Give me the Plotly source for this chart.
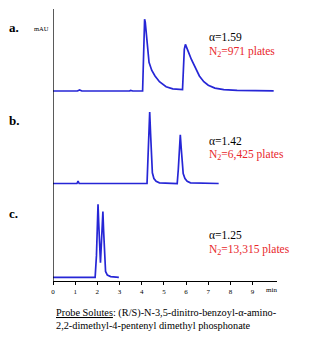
import plotly.graph_objects as go

# ---------------- data ----------------
# retention time (min) and relative detector signal (tallest peak of each run = 100)
t_a = [0, 1.1, 1.2, 1.3, 3.45, 3.5, 3.6, 3.75, 3.8, 4.04, 4.07, 4.1, 4.13, 4.16, 4.2, 4.26,
       4.33, 4.45, 4.6, 4.8, 5.1, 5.4, 5.75, 5.84, 5.88, 5.92, 5.97, 6.02, 6.1, 6.24, 6.4,
       6.6, 6.8, 7.0, 7.3, 7.7, 8.3, 9.95]
s_a = [0, 0, 1.5, 0, 0, 0.8, 0, 0.6, 0, 0, 40, 85, 100, 96, 80, 58,
       40, 29, 21, 13, 6, 3, 2, 2, 30, 58, 65, 62, 55, 44, 33,
       21, 13, 8, 4, 2, 0.8, 0.3]

t_b = [0, 1.08, 1.13, 1.18, 4.24, 4.28, 4.32, 4.36, 4.4, 4.44, 4.48, 4.55, 4.65, 4.8,
       5.6, 5.65, 5.7, 5.74, 5.78, 5.82, 5.87, 5.95, 6.05, 6.2, 7.47]
s_b = [0, 0, 3.5, 0, 0, 30, 80, 100, 70, 35, 15, 7, 3, 1,
       0, 20, 55, 68, 50, 28, 14, 7, 3, 1, 0]

t_c = [0, 0.8, 1.0, 1.2, 1.4, 1.9, 1.96, 2.0, 2.03, 2.06, 2.1, 2.14, 2.18, 2.22, 2.25,
       2.28, 2.32, 2.37, 2.45, 2.6, 2.97]
s_c = [0, 0, 1, 0.5, 0, 0, 30, 85, 100, 75, 30, 20, 45, 85, 90,
       65, 25, 8, 3, 1, 0]

run_labels = ["a.", "b.", "c."]
alphas = ["α=1.59", "α=1.42", "α=1.25"]
plates = ["N<sub>2</sub>=971 plates", "N<sub>2</sub>=6,425 plates", "N<sub>2</sub>=13,315 plates"]
tick_vals = [0, 1, 2, 3, 4, 5, 6, 7, 8, 9]
tick_text = ["0", "1", "2", "3", "4", "5", "6", "7", "8", "9"]
caption = ("<u>Probe Solutes</u>: (R/S)-N-3,5-dinitro-benzoyl-α-amino-<br>"
           "2,2-dimethyl-4-pentenyl dimethyl phosphonate")

# ---------------- layout helpers ----------------
W, H = 322, 343
ML, MR, MT, MB = 53, 45, 9, 62
PH = H - MT - MB
PW = W - ML - MR
YR = [-4, 105]

def py(pix):
    return (H - MB - pix) / PH

def px(pix):
    return (pix - ML) / PW

def domain(base_pix, top_pix):
    s = (base_pix - top_pix) / 100.0
    return [py(base_pix - YR[0] * s), py(top_pix - (YR[1] - 100) * s)]

BLUE = "#2626d6"
RED = "#e8262b"
SERIF = "Liberation Serif"

fig = go.Figure()
for i, (t, s) in enumerate([(t_a, s_a), (t_b, s_b), (t_c, s_c)]):
    fig.add_trace(go.Scatter(x=t, y=s, mode="lines", yaxis="y" if i == 0 else f"y{i+1}",
                             line=dict(color=BLUE, width=1.7), showlegend=False,
                             hoverinfo="skip"))

ycommon = dict(range=YR, visible=False, fixedrange=True)
fig.update_layout(
    width=W, height=H,
    margin=dict(l=ML, r=MR, t=MT, b=MB),
    paper_bgcolor="white", plot_bgcolor="white",
    xaxis=dict(range=[0, 10.1], anchor="free", position=0, showline=True,
               linecolor="black", linewidth=1.3, ticks="outside", ticklen=3,
               tickwidth=1, tickcolor="black", tickvals=tick_vals, ticktext=tick_text,
               tickfont=dict(family=SERIF, size=7, color="black"), showgrid=False,
               zeroline=False, fixedrange=True),
    yaxis=dict(domain=domain(91, 19.3), **ycommon),
    yaxis2=dict(domain=domain(183.5, 112), anchor="x", **ycommon),
    yaxis3=dict(domain=domain(277.3, 204.3), anchor="x", **ycommon),
)

# vertical axis line
fig.add_shape(type="line", xref="x", yref="paper", x0=0, x1=0, y0=0, y1=1,
              line=dict(color="black", width=1.3))

ann = []
label_y = [27.5, 120, 213]
for lab, yy in zip(run_labels, label_y):
    ann.append(dict(text=lab, xref="paper", yref="paper", x=px(7), y=py(yy), xanchor="left",
                    yanchor="middle", showarrow=False,
                    font=dict(family=SERIF, size=13, color="black", weight="bold")))
ann.append(dict(text="mAU", xref="paper", yref="paper", x=px(32), y=py(28.5), xanchor="left",
                yanchor="middle", showarrow=False, font=dict(family=SERIF, size=6.5, color="black")))

alpha_y = [37, 141, 235]
plate_y = [51.5, 154.5, 249.5]
for a, p, ay, pyy in zip(alphas, plates, alpha_y, plate_y):
    ann.append(dict(text=a, xref="paper", yref="paper", x=px(207), y=py(ay), xanchor="left",
                    yanchor="middle", showarrow=False,
                    font=dict(family=SERIF, size=11.5, color="black")))
    ann.append(dict(text=p, xref="paper", yref="paper", x=px(207), y=py(pyy), xanchor="left",
                    yanchor="middle", showarrow=False,
                    font=dict(family=SERIF, size=11.5, color=RED)))

ann.append(dict(text="min", xref="x", yref="paper", x=9.87, y=py(290), xanchor="center",
                yanchor="middle", showarrow=False, font=dict(family=SERIF, size=7, color="black")))
ann.append(dict(text=caption, xref="paper", yref="paper", x=px(54), y=py(305), xanchor="left",
                yanchor="top", align="left", showarrow=False,
                font=dict(family=SERIF, size=10.3, color="black")))
fig.update_layout(annotations=ann)

fig.write_html("out.html", config=dict(displayModeBar=False))
